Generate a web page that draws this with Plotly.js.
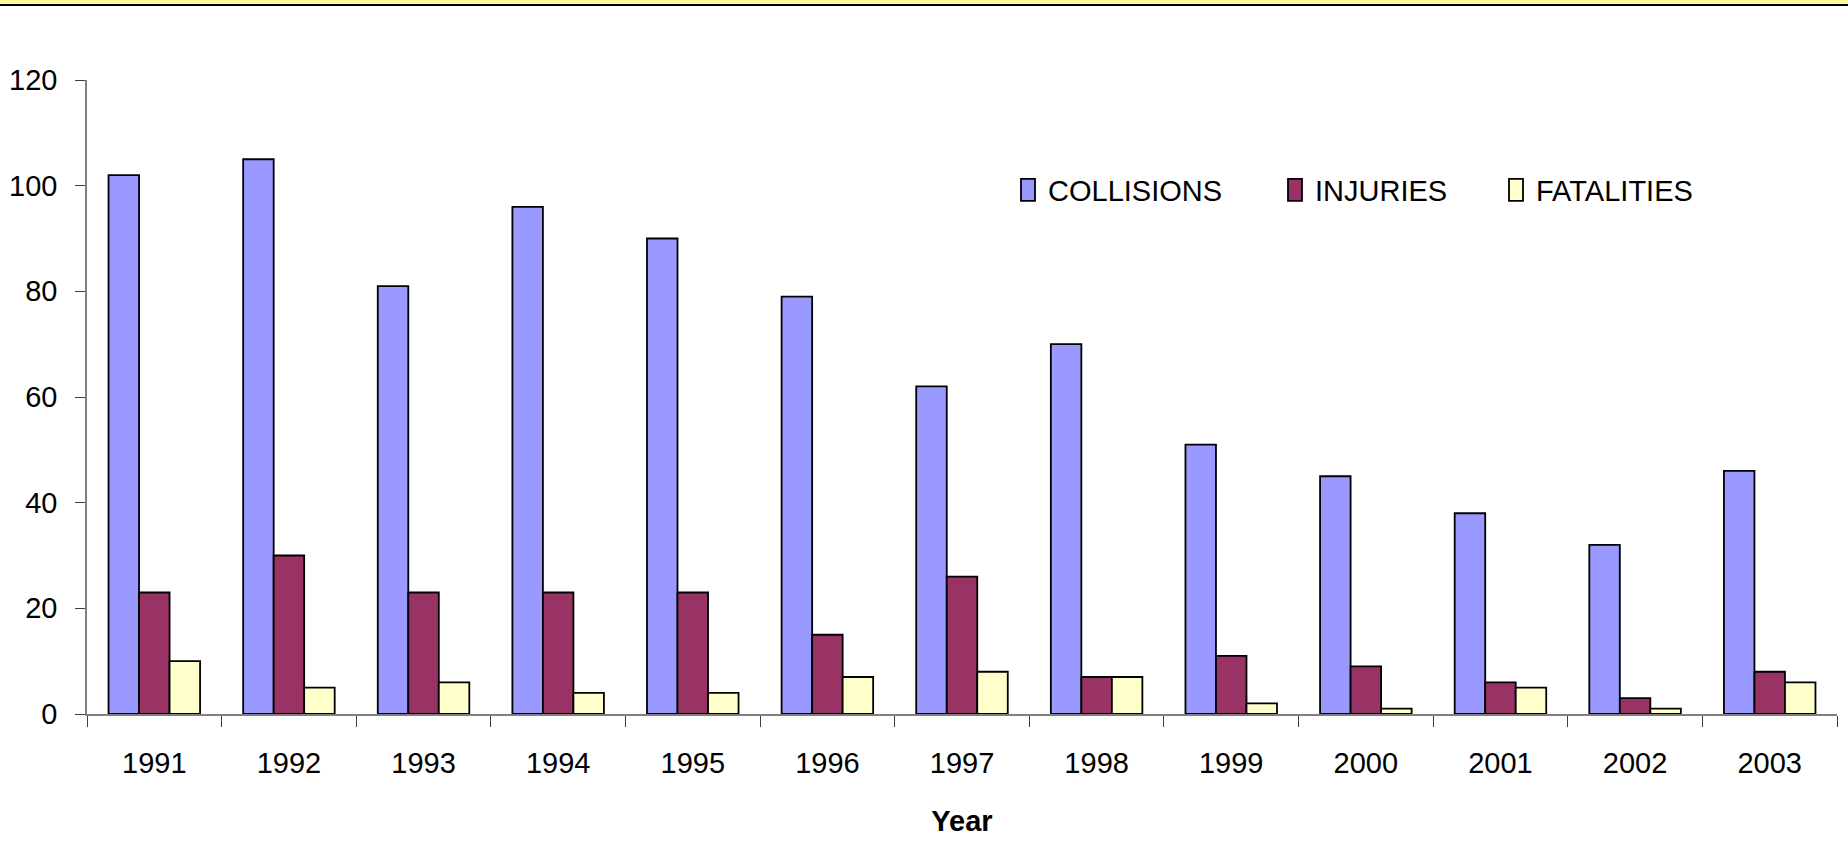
<!DOCTYPE html>
<html>
<head>
<meta charset="utf-8">
<script src="https://cdn.plot.ly/plotly-3.0.1.min.js"></script>
<style>
  html, body { margin: 0; padding: 0; background: #fff; }
  #chart { width: 1848px; height: 859px; }
</style>
</head>
<body>
<div id="chart"></div>
<script>
const years = ["1991","1992","1993","1994","1995","1996","1997","1998","1999","2000","2001","2002","2003"];
const collisions = [102, 105, 81, 96, 90, 79, 62, 70, 51, 45, 38, 32, 46];
const injuries   = [23, 30, 23, 23, 23, 15, 26, 7, 11, 9, 6, 3, 8];
const fatalities = [10, 5, 6, 4, 4, 7, 8, 7, 2, 1, 5, 1, 6];
const seriesNames = ["COLLISIONS", "INJURIES", "FATALITIES"];
const yTicks = [0, 20, 40, 60, 80, 100, 120];

const W = 1848, H = 859;
const mL = 87, mR = 11, mT = 80, mB = 145;
const plotH = H - mT - mB;
const plotW = W - mL - mR;
function py(pix) { return (H - mB - pix) / plotH; }
function px(pix) { return (pix - mL) / plotW; }

const font = "Liberation Sans, Arial, sans-serif";

const colors = ["#9999FF", "#993366", "#FFFFCC"];
const legendIds = ["legend", "legend2", "legend3"];
const legendLeft = [1008, 1275, 1496];

const data = [collisions, injuries, fatalities].map((vals, i) => ({
  type: "bar",
  name: seriesNames[i],
  x: years,
  y: vals,
  legend: legendIds[i],
  marker: { color: colors[i], line: { color: "#000000", width: 1.8 } },
  hoverinfo: "x+y+name"
}));

function legendCfg(i) {
  return {
    orientation: "h",
    x: px(legendLeft[i]), xanchor: "left",
    y: py(190), yanchor: "middle",
    font: { family: font, size: 29, color: "#000000" },
    bgcolor: "rgba(0,0,0,0)",
    borderwidth: 0
  };
}

const layout = {
  width: W, height: H,
  margin: { l: mL, r: mR, t: mT, b: mB, pad: 0 },
  paper_bgcolor: "#ffffff",
  plot_bgcolor: "#ffffff",
  barmode: "group",
  bargap: 0.32,
  bargroupgap: 0,
  font: { family: font, color: "#000000", size: 29 },
  showlegend: true,
  legend: legendCfg(0),
  legend2: legendCfg(1),
  legend3: legendCfg(2),
  xaxis: {
    type: "category",
    showline: true, linecolor: "#808080", linewidth: 1.5,
    ticks: "outside", tickson: "boundaries", ticklen: 11, tickcolor: "#404040", tickwidth: 1,
    showgrid: false, zeroline: false,
    tickfont: { family: font, size: 29, color: "#000000" },
    ticklabelstandoff: 22,
    title: { text: "<b>Year</b>", font: { family: font, size: 29, color: "#000000" }, standoff: 33 }
  },
  yaxis: {
    range: [0, 120],
    tickvals: yTicks,
    showline: true, linecolor: "#808080", linewidth: 1.5,
    ticks: "outside", ticklen: 10, tickcolor: "#404040", tickwidth: 1,
    showgrid: false, zeroline: false,
    tickfont: { family: font, size: 29, color: "#000000" },
    ticklabelstandoff: 12
  },
  shapes: [
    { type: "rect", xref: "paper", yref: "paper",
      x0: -mL / plotW, x1: (W - mL) / plotW, y0: py(4), y1: py(0),
      fillcolor: "#FFFF99", line: { width: 0 }, layer: "above" },
    { type: "rect", xref: "paper", yref: "paper",
      x0: -mL / plotW, x1: (W - mL) / plotW, y0: py(6), y1: py(4),
      fillcolor: "#000000", line: { width: 0 }, layer: "above" }
  ]
};

Plotly.newPlot("chart", data, layout, { displayModeBar: false }).then(function (gd) {
  // make legend swatches taller rectangles like the original
  gd.querySelectorAll(".legendpoints path.legendundefined, .legendpoints path").forEach(function (p) {
    p.setAttribute("d", "M7,11H-7V-11H7Z");
    p.style.strokeWidth = "1.8px";
  });
});
</script>
</body>
</html>
